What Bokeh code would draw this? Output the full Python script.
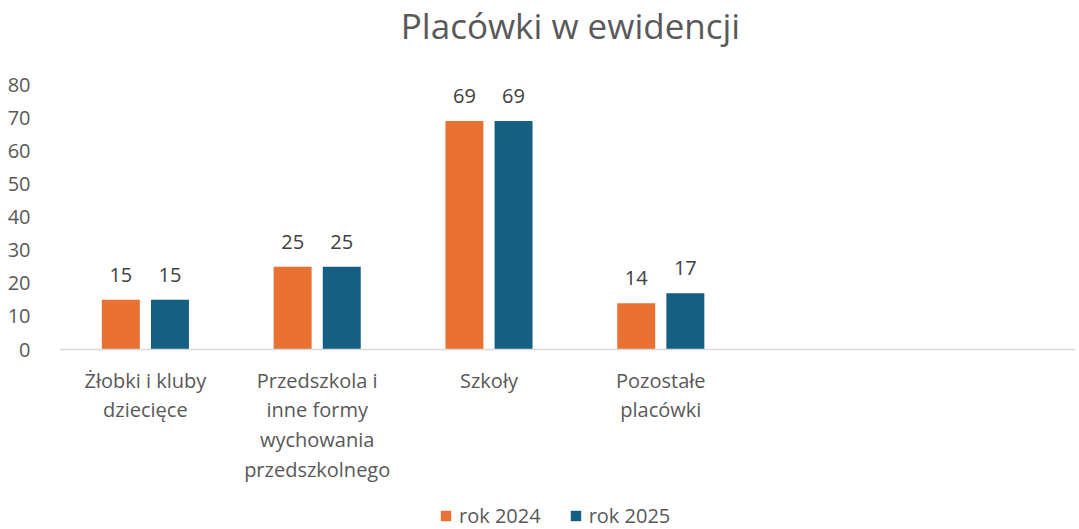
from bokeh.plotting import figure
from bokeh.models import ColumnDataSource, Range1d, FixedTicker, Legend, LegendItem, Span, Label
from bokeh.embed import file_html
from bokeh.resources import INLINE
from bokeh.core.properties import value

# ---- data ----
title_text = "Placówki w ewidencji"
categories = [
    "Żłobki i kluby\ndziecięce",
    "Przedszkola i\ninne formy\nwychowania\nprzedszkolnego",
    "Szkoły",
    "Pozostałe\nplacówki",
]
series_names = ["rok 2024", "rok 2025"]
values_2024 = [15, 25, 69, 14]
values_2025 = [15, 25, 69, 17]
y_ticks = [0, 10, 20, 30, 40, 50, 60, 70, 80]
n_slots = 6  # 4 named categories + 2 empty slots on the axis

FONT = "Open Sans"
TEXT = "#595959"
C2024 = "#E97132"
C2025 = "#156082"

idx = list(range(len(categories)))
off = 0.143
bw = 0.221

src24 = ColumnDataSource(dict(x=[i - off for i in idx], top=values_2024,
                              lab=[str(v) for v in values_2024]))
src25 = ColumnDataSource(dict(x=[i + off for i in idx], top=values_2025,
                              lab=[str(v) for v in values_2025]))
srccat = ColumnDataSource(dict(x=idx, y=[0] * len(idx), lab=categories))

# frame spans the whole figure height: 0..80 occupies 265 px, with room above
# for the title and below for category labels + legend
px_per_unit = 265 / y_ticks[-1]
y_top = y_ticks[-1] + 84 / px_per_unit
y_bottom = -180 / px_per_unit

p = figure(width=1079, height=529, output_backend="svg", toolbar_location=None,
           x_range=Range1d(-0.5, n_slots - 0.586), y_range=Range1d(y_bottom, y_top),
           min_border_left=59, min_border_right=4, min_border_top=0,
           min_border_bottom=0)
p.outline_line_color = None
p.grid.visible = False
p.background_fill_color = "white"
p.border_fill_color = "white"

# chart title (placed in screen units relative to the plot frame)
p.add_layout(Label(x=511, y=504, x_units="screen", y_units="screen",
                   text=title_text, text_align="center",
                   text_baseline="alphabetic", text_font=FONT,
                   text_font_size="35px", text_color=TEXT))

r24 = p.vbar(x="x", top="top", bottom=0, width=bw, source=src24,
             fill_color=C2024, line_color=None)
r25 = p.vbar(x="x", top="top", bottom=0, width=bw, source=src25,
             fill_color=C2025, line_color=None)

for s in (src24, src25):
    p.text(x="x", y="top", text="lab", source=s, text_align="center",
           text_baseline="bottom", y_offset=-18, text_font=value(FONT),
           text_font_size="20px", text_color="#404040")

# category axis line at 0 and category labels
p.add_layout(Span(location=0, dimension="width", line_color="#D9D9D9", line_width=1.5))
p.text(x="x", y="y", text="lab", source=srccat, text_align="center",
       text_baseline="top", y_offset=17, text_font=value(FONT),
       text_font_size="20px", text_color=TEXT, text_line_height=1.1)

p.xaxis.visible = False

ya = p.yaxis[0]
ya.ticker = FixedTicker(ticks=y_ticks)
ya.axis_line_color = None
ya.major_tick_line_color = None
ya.minor_tick_line_color = None
ya.major_label_standoff = 23
ya.major_label_text_font = FONT
ya.major_label_text_font_size = "20px"
ya.major_label_text_color = TEXT

legend = Legend(items=[LegendItem(label=series_names[0], renderers=[r24]),
                       LegendItem(label=series_names[1], renderers=[r25])],
                orientation="horizontal", location=(380, 0),
                label_text_font=FONT, label_text_font_size="20px",
                label_text_color=TEXT, glyph_width=13, glyph_height=13,
                label_standoff=7, spacing=28, border_line_color=None,
                background_fill_alpha=0, padding=0, margin=0)
p.add_layout(legend, "center")

open("out.html", "w").write(file_html(p, INLINE))
